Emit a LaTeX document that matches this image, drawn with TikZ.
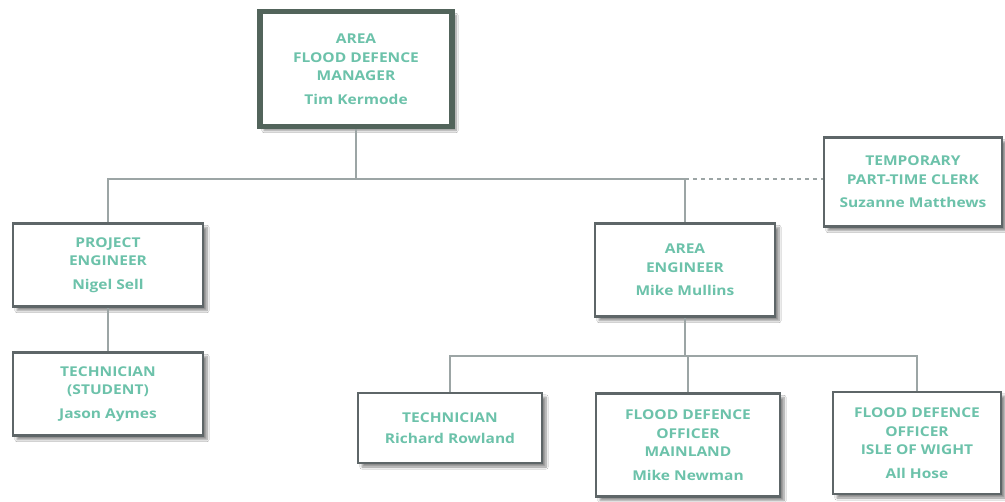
\documentclass[tikz,border=0pt]{standalone}
\usepackage{fontspec}
\setmainfont{Open Sans}[FakeStretch=1.15]
\usetikzlibrary{shadows.blur}
\definecolor{txt}{HTML}{6CC2AA}
\definecolor{frame}{HTML}{5E6668}
\definecolor{topframe}{HTML}{52645B}
\definecolor{wire}{HTML}{9CA5A5}
\tikzset{
  post/.style={draw=frame, line width=2.6pt, fill=white, align=center,
    text=txt, font=\bfseries\fontsize{13.5}{18.5}\selectfont, inner sep=0pt,
    blur shadow={shadow xshift=4pt, shadow yshift=-4pt, shadow blur steps=8, shadow opacity=45}},
  head/.style={post, draw=topframe, line width=5.5pt},
  wireline/.style={draw=wire, line width=1.3pt},
}
\begin{document}
\begin{tikzpicture}[x=1pt,y=-1pt]
\useasboundingbox[fill=white] (0,0) rectangle (1005,502);

% posts
\node[head, minimum width=192, minimum height=115] (mgr) at (356,69)
  {AREA\\FLOOD DEFENCE\\MANAGER\\[5pt]Tim Kermode};
\node[post, minimum width=190, minimum height=83] (proj) at (108,265)
  {PROJECT\\ENGINEER\\[5pt]Nigel Sell};
\node[post, minimum width=180, minimum height=93] (areng) at (685,270)
  {AREA\\ENGINEER\\[5pt]Mike Mullins};
\node[post, minimum width=178, minimum height=89] (clerk) at (913,182)
  {TEMPORARY\\PART-TIME CLERK\\[5pt]Suzanne Matthews};
\node[post, minimum width=190, minimum height=83] (techs) at (108,394)
  {TECHNICIAN\\(STUDENT)\\[5pt]Jason Aymes};
\node[post, minimum width=184, minimum height=70] (tech) at (450,428)
  {TECHNICIAN\\[3pt]Richard Rowland};
\node[post, minimum width=184, minimum height=103] (mainland) at (688,445)
  {FLOOD DEFENCE\\OFFICER\\MAINLAND\\[5pt]Mike Newman};
\node[post, minimum width=168, minimum height=102] (iow) at (917,443)
  {FLOOD DEFENCE\\OFFICER\\ISLE OF WIGHT\\[5pt]All Hose};

% connector levels
\coordinate (bus) at (0,179);
\coordinate (bus2) at (0,356);

% upper tier
\draw[wireline] (mgr.south) -- (mgr.south |- bus);
\draw[wireline] (proj.north) |- (areng.north |- bus) -- (areng.north);
\draw[wireline, dashed, dash pattern=on 4pt off 4pt] (areng.north |- bus) -- (clerk.west |- bus);
\draw[wireline] (proj.south) -- (techs.north);

% lower tier
\draw[wireline] (areng.south) -- (areng.south |- bus2);
\draw[wireline] (tech.north) |- (iow.north |- bus2) -- (iow.north);
\draw[wireline] (mainland.north) -- (mainland.north |- bus2);
\end{tikzpicture}
\end{document}
